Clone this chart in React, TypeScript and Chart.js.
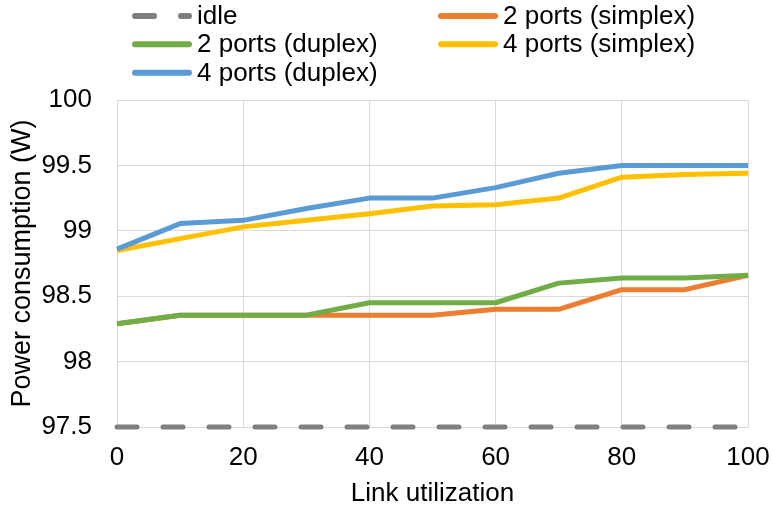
import React, { useEffect, useRef } from 'react';
import { Chart, registerables } from 'chart.js';

Chart.register(...registerables);

const utilization = [0, 10, 20, 30, 40, 50, 60, 70, 80, 90, 100];
const idle = [97.5, 97.5, 97.5, 97.5, 97.5, 97.5, 97.5, 97.5, 97.5, 97.5, 97.5];
const simplex2 = [98.29, 98.355, 98.355, 98.355, 98.355, 98.355, 98.4, 98.4, 98.55, 98.55, 98.66];
const duplex2 = [98.29, 98.355, 98.355, 98.355, 98.45, 98.45, 98.45, 98.6, 98.64, 98.64, 98.66];
const simplex4 = [98.85, 98.94, 99.03, 99.08, 99.13, 99.19, 99.2, 99.25, 99.41, 99.43, 99.44];
const duplex4 = [98.86, 99.055, 99.08, 99.17, 99.25, 99.25, 99.33, 99.44, 99.5, 99.5, 99.5];

const seriesNames = ['idle', '2 ports (simplex)', '2 ports (duplex)', '4 ports (simplex)', '4 ports (duplex)'];
const seriesColors = ['#7f7f7f', '#ed7d31', '#70ad47', '#ffc000', '#5b9bd5'];
const seriesValues = [idle, simplex2, duplex2, simplex4, duplex4];
const seriesOrder = [0, 4, 3, 2, 1];

const xTitle = 'Link utilization';
const yTitle = 'Power consumption (W)';

const FONT_FAMILY = '"Liberation Sans", Arial, sans-serif';

const legendPlugin = {
  id: 'gridLegend',
  afterDraw(chart: any) {
    const ctx = chart.ctx;
    const colX = [132, 438];
    const rowY = [16, 44.3, 72.7];
    chart.data.datasets.forEach((ds: any, i: number) => {
      const x = colX[i % 2];
      const y = rowY[Math.floor(i / 2)];
      ctx.save();
      ctx.strokeStyle = ds.borderColor;
      ctx.lineWidth = 6;
      ctx.lineCap = 'round';
      ctx.setLineDash(ds.borderDash && ds.borderDash.length ? [19, 27] : []);
      ctx.beginPath();
      ctx.moveTo(x + 3, y);
      ctx.lineTo(x + 57, y);
      ctx.stroke();
      ctx.setLineDash([]);
      ctx.fillStyle = '#000';
      ctx.font = '26px ' + FONT_FAMILY;
      ctx.textBaseline = 'middle';
      ctx.textAlign = 'left';
      ctx.fillText(ds.label, x + 65, y + 1);
      ctx.restore();
    });
  },
};

export default function App() {
  const canvasRef = useRef<HTMLCanvasElement | null>(null);

  useEffect(() => {
    document.body.style.margin = '0';
    const canvas = canvasRef.current;
    if (!canvas) return;
    const font = { family: FONT_FAMILY, size: 26 };
    const chart = new Chart(canvas, {
      type: 'line',
      data: {
        datasets: seriesNames.map((name, i) => ({
          label: name,
          data: utilization.map((u, j) => ({ x: u, y: seriesValues[i][j] })),
          borderColor: seriesColors[i],
          backgroundColor: seriesColors[i],
          borderWidth: 5,
          borderDash: i === 0 ? [20, 26] : [],
          borderCapStyle: i === 0 ? 'round' : 'butt',
          borderJoinStyle: 'round',
          pointRadius: 0,
          pointHoverRadius: 0,
          tension: 0,
          fill: false,
          clip: false as any,
          order: seriesOrder[i],
        })),
      },
      options: {
        responsive: false,
        animation: false,
        layout: { padding: { top: 100, right: 25, left: 0, bottom: 0 } },
        plugins: {
          legend: { display: false },
          tooltip: { enabled: false },
        },
        scales: {
          x: {
            type: 'linear',
            min: 0,
            max: 100,
            ticks: { stepSize: 20, padding: 15, font, color: '#000', callback: (v: any) => String(v) },
            grid: { color: '#d9d9d9', lineWidth: 1, drawTicks: false },
            border: { display: true, color: '#d9d9d9', width: 1 },
            title: { display: true, text: xTitle, font, color: '#000', padding: { top: 0, bottom: 3 } },
            afterFit: (s: any) => { s.height = 85; s.paddingLeft = 0; s.paddingRight = 0; },
          },
          y: {
            type: 'linear',
            min: 97.5,
            max: 100,
            ticks: { stepSize: 0.5, padding: 25, font, color: '#000', callback: (v: any) => String(v) },
            grid: { color: '#d9d9d9', lineWidth: 1, drawTicks: false },
            border: { display: true, color: '#d9d9d9', width: 1 },
            title: { display: true, text: yTitle, font: { family: FONT_FAMILY, size: 27 }, color: '#000', padding: { top: 6, bottom: 0 } },
            afterFit: (s: any) => { s.width = 117; s.paddingTop = 0; s.paddingBottom = 0; },
          },
        },
      },
      plugins: [legendPlugin],
    } as any);
    return () => chart.destroy();
  }, []);

  return (
    <div style={{ width: 773, height: 512 }}>
      <canvas ref={canvasRef} width={773} height={512} style={{ width: 773, height: 512, display: 'block' }} />
    </div>
  );
}
